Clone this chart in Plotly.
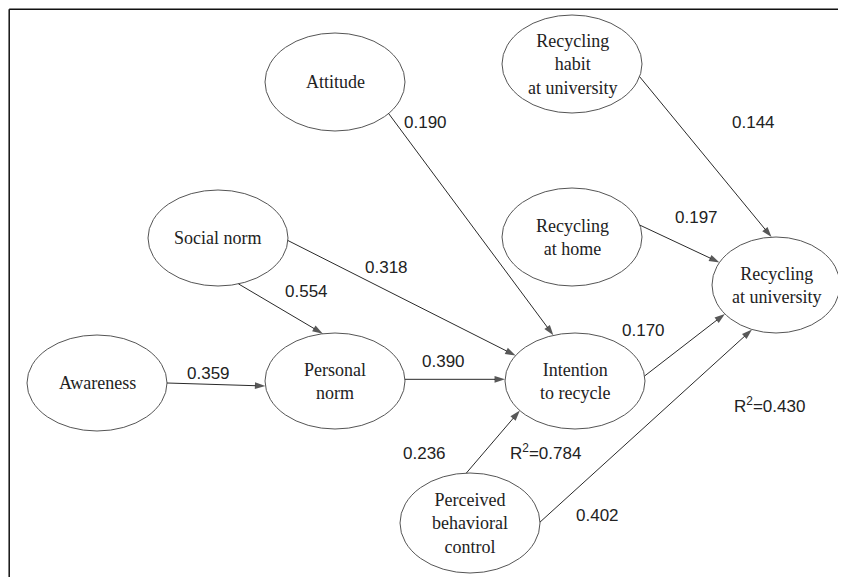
import math
import plotly.graph_objects as go

# ---------------- data ----------------
node_ids = ["att", "habit", "social", "home", "univ", "aware", "pnorm", "intent", "pbc"]
node_labels = ["Attitude", "Recycling<br>habit<br>at university", "Social norm",
               "Recycling<br>at home", "Recycling<br>at university", "Awareness",
               "Personal<br>norm", "Intention<br>to recycle", "Perceived<br>behavioral<br>control"]

path_from = ["att", "social", "social", "aware", "pnorm", "pbc", "intent", "pbc", "home", "habit"]
path_to = ["intent", "intent", "pnorm", "pnorm", "intent", "intent", "univ", "univ", "univ", "univ"]
path_coef = ["0.190", "0.318", "0.554", "0.359", "0.390", "0.236", "0.170", "0.402", "0.197", "0.144"]

r2_nodes = ["intent", "univ"]
r2_values = ["0.784", "0.430"]

# ---------------- layout (pixel geometry of the page, y downward) ----------------
PAGE_W, PAGE_H = 846, 585
OFF = 8  # page body margin (both sides)
W, H = PAGE_W - 2 * OFF, PAGE_H - 2 * OFF
node_geom = {  # cx, cy, rx, ry
    "att": (335, 82, 70, 49),
    "habit": (572, 64, 70, 49),
    "social": (218, 238, 70, 48),
    "home": (572, 237, 70, 49),
    "univ": (776, 285, 64, 48),
    "aware": (97, 383, 70, 48),
    "pnorm": (335, 381, 70, 48),
    "intent": (575, 381, 70, 48),
    "pbc": (470, 523, 70, 50),
}
# attachment angles (deg) on source / target ellipse for each path
edge_angles = [(40, -108), (3, -148), (73, -100), (0, 174), (-2, 182),
               (-93, 142), (-6, 143), (-1, 112), (-14, -152), (15, -94)]
coef_pos = [(425, 122), (386, 267), (306, 291), (208, 373), (443, 361),
            (424, 453), (643, 330), (597, 515), (696, 217), (753, 122)]
r2_pos = {"intent": (545, 452), "univ": (769, 405)}


def pt(node, ang):
    cx, cy, rx, ry = node_geom[node]
    a = math.radians(ang)
    return cx + rx * math.cos(a), cy + ry * math.sin(a)


fig = go.Figure()

shapes = []
annotations = []
node_col = "#555555"
line_col = "#2a2a2a"

# border (top and left), as close to the page corner as the page allows
BX = OFF + 1.2
shapes.append(dict(type="line", xref="x", yref="y", x0=BX, y0=BX, x1=PAGE_W, y1=BX,
                   line=dict(color="#111111", width=1.5)))
shapes.append(dict(type="line", xref="x", yref="y", x0=BX, y0=BX, x1=BX, y1=PAGE_H,
                   line=dict(color="#111111", width=1.5)))

for nid, lab in zip(node_ids, node_labels):
    cx, cy, rx, ry = node_geom[nid]
    shapes.append(dict(type="circle", xref="x", yref="y", x0=cx - rx, x1=cx + rx,
                       y0=cy - ry, y1=cy + ry, line=dict(color=node_col, width=1),
                       fillcolor="white", layer="below"))
    annotations.append(dict(x=cx, y=cy, xref="x", yref="y", text=lab, showarrow=False,
                            font=dict(family="Liberation Serif", size=18, color="#222222"),
                            align="center"))

for f, t, c, (a0, a1), (lx, ly) in zip(path_from, path_to, path_coef, edge_angles, coef_pos):
    sx, sy = pt(f, a0)
    tx, ty = pt(t, a1)
    fig.add_trace(go.Scatter(
        x=[sx, tx], y=[sy, ty], mode="lines+markers",
        line=dict(color=line_col, width=1),
        marker=dict(symbol="arrow", angleref="previous", size=[0, 11], color="#111111",
                    line=dict(width=0)),
        hoverinfo="skip", showlegend=False))
    annotations.append(dict(x=lx, y=ly, xref="x", yref="y", text=c, showarrow=False,
                            font=dict(family="Liberation Sans", size=17, color="#222222")))

for n, v in zip(r2_nodes, r2_values):
    lx, ly = r2_pos[n]
    annotations.append(dict(x=lx, y=ly, xref="x", yref="y", text="R<sup>2</sup>=" + v,
                            showarrow=False,
                            font=dict(family="Liberation Sans", size=17, color="#222222")))

fig.update_layout(
    width=W, height=H, margin=dict(l=0, r=0, t=0, b=0),
    paper_bgcolor="white", plot_bgcolor="white",
    xaxis=dict(range=[OFF, OFF + W], visible=False, fixedrange=True),
    yaxis=dict(range=[OFF + H, OFF], visible=False, fixedrange=True),
    shapes=shapes, annotations=annotations, showlegend=False,
)
fig.write_html("out.html", config={"displayModeBar": False})
